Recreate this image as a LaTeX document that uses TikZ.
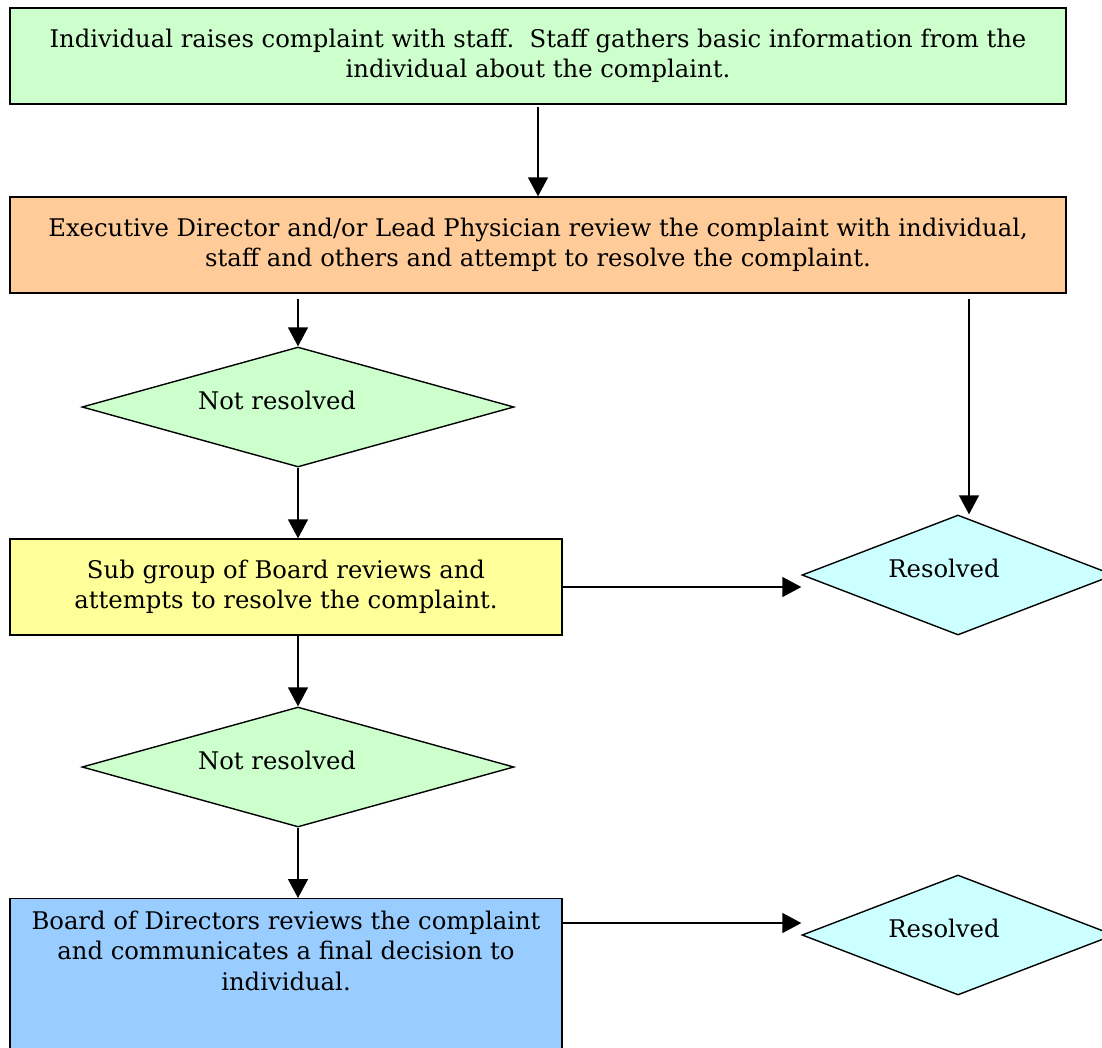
\documentclass[tikz,border=0pt]{standalone}
\usepackage{fontspec}
\setmainfont{DejaVu Serif}
\usetikzlibrary{shapes.geometric,arrows.meta}
\definecolor{cgreen}{HTML}{CCFFCC}
\definecolor{corange}{HTML}{FFCC99}
\definecolor{cyellow}{HTML}{FFFF99}
\definecolor{ccyan}{HTML}{CCFFFF}
\definecolor{cblue}{HTML}{99CCFF}
\begin{document}
\begin{tikzpicture}[x=1pt,y=-1pt,
  every node/.style={font=\fontsize{24.3}{30.5}\selectfont},
  box/.style={draw, line width=1.4pt, inner sep=0pt, align=center},
  decision/.style={draw, diamond, line width=1.4pt, inner sep=0pt, minimum width=432pt, minimum height=120pt},
  resdec/.style={decision, fill=ccyan, minimum width=312pt},
  arr/.style={line width=1.4pt, -{Triangle[length=19pt,width=20pt]}}]
\useasboundingbox (0,0) rectangle (1102,1047);
\clip (0,0) rectangle (1102,1047);
\fill[white] (0,0) rectangle (1102,1047);

\node[box, fill=cgreen, minimum width=1056pt, minimum height=96pt] (b1) at (538,56)
  {Individual raises complaint with staff.\ \ Staff gathers basic information from the\\individual about the complaint.};
\node[box, fill=corange, minimum width=1056pt, minimum height=96pt] (b2) at (538,245)
  {Executive Director and/or Lead Physician review the complaint with individual,\\staff and others and attempt to resolve the complaint.};
\node[decision, fill=cgreen, label={[xshift=-21pt,yshift=7pt]center:Not resolved}] (d1) at (298,407) {};
\node[box, fill=cyellow, minimum width=552pt, minimum height=96pt] (b3) at (286,587)
  {Sub group of Board reviews and\\attempts to resolve the complaint.};
\node[resdec, label={[xshift=-14pt,yshift=7pt]center:Resolved}] (r1) at (958,575) {};
\node[decision, fill=cgreen, label={[xshift=-21pt,yshift=7pt]center:Not resolved}] (d2) at (298,767) {};
\node[box, fill=cblue, minimum width=552pt, anchor=north, inner ysep=12pt, text depth=190pt] (b4) at (286,898)
  {Board of Directors reviews the complaint\\and communicates a final decision to\\individual.};
\node[resdec, label={[xshift=-14pt,yshift=7pt]center:Resolved}] (r2) at (958,935) {};

\draw[arr, shorten <=2pt] (b1.south -| 538,0) -- (b2.north -| 538,0);
\draw[arr, shorten <=5pt] (b2.south -| d1.north) -- (d1.north);
\draw[arr, shorten <=5pt] (b2.south -| 969,0) -- (r1.north -| 969,0);
\draw[arr] (d1.south) -- (b3.north -| d1.south);
\draw[arr] (b3.east) -- (b3.east -| r1.west);
\draw[arr] (b3.south -| d2.north) -- (d2.north);
\draw[arr] (d2.south) -- (b4.north -| d2.south);
\draw[arr] (b4.north east) ++(0,25) coordinate (b4e) -- (b4e -| r2.west);
\end{tikzpicture}
\end{document}
